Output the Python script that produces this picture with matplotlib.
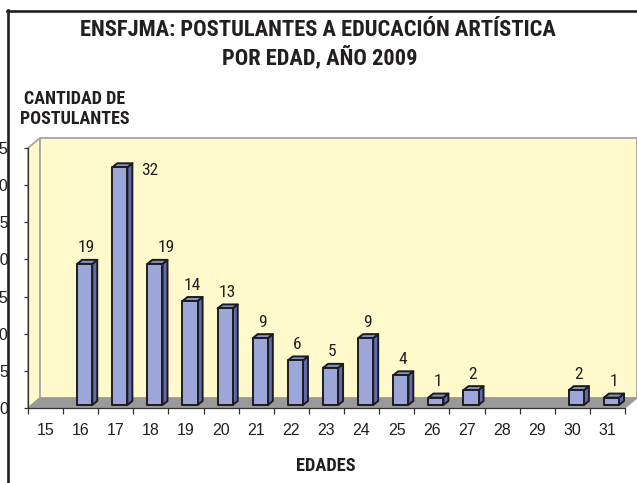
import matplotlib
matplotlib.use("Agg")
import matplotlib.pyplot as plt
from matplotlib.patches import Polygon
from matplotlib.transforms import IdentityTransform
from matplotlib.lines import Line2D
from matplotlib import font_manager as fm
import numpy as np

# ---- data ----
ages = list(range(15, 32))
postulantes = [0, 19, 32, 19, 14, 13, 9, 6, 5, 9, 4, 1, 2, 0, 0, 2, 1]
age_labels = [str(a) for a in ages]
y_ticks = [0, 5, 10, 15, 20, 25, 30, 35]
title_l1 = "ENSFJMA: POSTULANTES A EDUCACIÓN ARTÍSTICA"
title_l2 = "POR EDAD, AÑO 2009"
ylabel_l1 = "CANTIDAD DE"
ylabel_l2 = "POSTULANTES"
xlabel = "EDADES"

# ---- fonts ----
_installed = {f.name for f in fm.fontManager.ttflist}


def pick(cands):
    for c in cands:
        if c in _installed:
            return c
    return 'DejaVu Sans'


NARROW_NAME = pick(['Nimbus Sans Narrow', 'Liberation Sans Narrow', 'Arial Narrow',
                    'Roboto Condensed', 'Archivo Narrow', 'PT Sans Narrow'])
REG_NAME = pick(['Nimbus Sans', 'Arimo', 'Liberation Sans'])
NARROW = [NARROW_NAME, 'DejaVu Sans']
REG = [REG_NAME, 'DejaVu Sans']

# ---- style ----
W, H = 637, 483
INK = '#231f20'
WALL = '#fff9cc'
WALL_EDGE = '#a6a6a6'
FLOOR = '#999999'
FACE = '#9ca6d8'
SIDE = '#5f69ad'
TOP = '#8791cc'
EDGE = '#1c1c1c'

fig = plt.figure(figsize=(W / 100, H / 100), dpi=100)
fig.patch.set_facecolor('white')
ax = fig.add_axes([28 / W, (H - 408) / H, (625 - 28) / W, (408 - 148) / H])
ax.patch.set_visible(False)
n = len(ages)
ax.set_xlim(0, n)
ax.set_ylim(0, 35)
ax.set_autoscale_on(False)

ID = IdentityTransform()


def D(x, y, dx=0.0, dy=0.0):
    p = ax.transData.transform((x, y))
    return (p[0] + dx, p[1] + dy)


def poly(pts, fc, ec, lw, z):
    ax.add_patch(Polygon(pts, closed=True, facecolor=fc, edgecolor=ec, lw=lw,
                         transform=ID, clip_on=False, zorder=z, joinstyle='round'))


# walls & floor (3D depth)
ddx, ddy = 12, 10
poly([D(0, 0), D(0, 35), D(0, 35, ddx, ddy), D(0, 0, ddx, ddy)], WALL, WALL_EDGE, 1.3, 1)
poly([D(0, 0, ddx, ddy), D(0, 35, ddx, ddy), D(n, 35, ddx, ddy), D(n, 0, ddx, ddy)], WALL, WALL_EDGE, 1.3, 1)
poly([D(0, 0), D(0, 0, ddx, ddy), D(n, 0, ddx, ddy), D(n, 0)], FLOOR, FLOOR, 0.8, 2)

# bars
bx, by = 3, 3      # bar placement within depth
sx, sy = 5, 4      # bar depth
off = 0.314
wid = 0.43
label_nudge = {2: (27.5, -19), 3: (9.5, 0)}
for i, v in enumerate(postulantes):
    if v == 0:
        continue
    x0, x1 = i + off, i + off + wid
    front = [D(x0, 0, bx, by), D(x0, v, bx, by), D(x1, v, bx, by), D(x1, 0, bx, by)]
    side = [D(x1, 0, bx, by), D(x1, v, bx, by), D(x1, v, bx + sx, by + sy), D(x1, 0, bx + sx, by + sy)]
    top = [D(x0, v, bx, by), D(x1, v, bx, by), D(x1, v, bx + sx, by + sy), D(x0, v, bx + sx, by + sy)]
    poly(side, SIDE, EDGE, 1.4, 4)
    poly(top, TOP, EDGE, 1.4, 4)
    poly(front, FACE, EDGE, 1.4, 5)
    cx = (front[0][0] + front[3][0]) / 2 + 2
    cy = front[1][1] + sy + 12
    ndx, ndy = label_nudge.get(i, (0, 0))
    ax.text(cx + ndx, cy + ndy, str(v), transform=ID, ha='center', va='center',
            fontsize=12.5, family=NARROW, color=INK, zorder=6)

# axes
for s in ['top', 'right']:
    ax.spines[s].set_visible(False)
for s in ['left', 'bottom']:
    ax.spines[s].set_color('#333333')
    ax.spines[s].set_linewidth(0.9)
    ax.spines[s].set_zorder(3)
ax.set_yticks(y_ticks)
ax.set_yticklabels([str(t) for t in y_ticks], family=REG, fontsize=11.5, color=INK)
ax.tick_params(axis='y', direction='out', length=3, width=0.9, color='#333333', pad=11)
ax.set_xticks(np.arange(n) + 0.5)
ax.set_xticklabels(age_labels, family=REG, fontsize=11.5, color=INK)
ax.set_xticks(np.arange(n + 1), minor=True)
ax.tick_params(axis='x', which='major', length=0, pad=11)
ax.tick_params(axis='x', which='minor', direction='out', length=4, width=0.9, color='#333333')


# texts
def ftext(x, y, s, **kw):
    fig.text(x / W, 1 - y / H, s, ha='center', va='center', color=INK, **kw)


ftext(318, 30, title_l1, fontsize=16.2, weight='bold', family=NARROW)
ftext(320, 57, title_l2, fontsize=16.2, weight='bold', family=NARROW)
ftext(75, 99, ylabel_l1, fontsize=13, weight='bold', family=NARROW)
ftext(75, 119, ylabel_l2, fontsize=13, weight='bold', family=NARROW)
ftext(326, 466, xlabel, fontsize=13.2, weight='bold', family=NARROW)

# outer frame (left and top)
fig.add_artist(Line2D([7.5 / W, 7.5 / W], [0, 1 - 10 / H], transform=fig.transFigure, color=INK, lw=1.9))
fig.add_artist(Line2D([6.8 / W, 1], [1 - 11 / H, 1 - 11 / H], transform=fig.transFigure, color=INK, lw=1.9))

fig.savefig('out.png', dpi=100, facecolor='white')
